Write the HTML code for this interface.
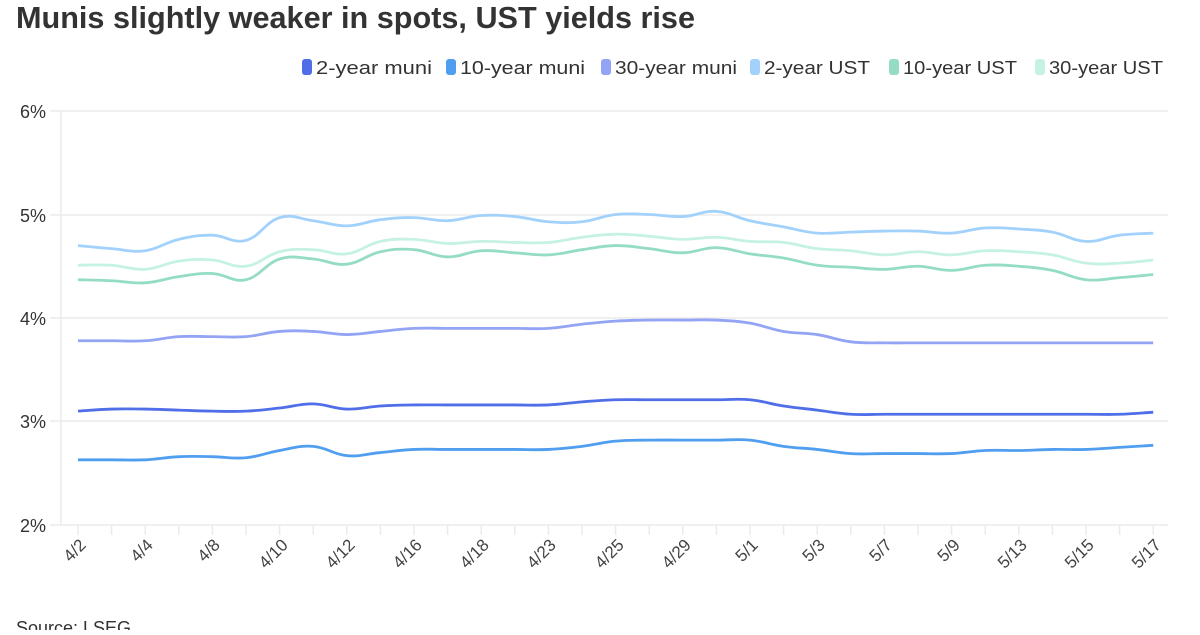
<!DOCTYPE html>
<html><head><meta charset="utf-8"><style>
body{margin:0;width:1200px;height:630px;overflow:hidden;background:#fff;font-family:"Liberation Sans",sans-serif;color:#333}
</style></head><body>
<svg id="s" width="1200" height="630" xmlns="http://www.w3.org/2000/svg" font-family="Liberation Sans, sans-serif">
<text x="16" y="28" font-size="31" font-weight="bold" fill="#333" textLength="679" lengthAdjust="spacingAndGlyphs">Munis slightly weaker in spots, UST yields rise</text>
<g font-size="18" fill="#333">
<rect x="302" y="59" width="10" height="16" rx="3" fill="#4f6ee8"/><text x="316" y="74" textLength="116" lengthAdjust="spacingAndGlyphs">2-year muni</text>
<rect x="446" y="59" width="10" height="16" rx="3" fill="#509ef0"/><text x="460" y="74" textLength="125" lengthAdjust="spacingAndGlyphs">10-year muni</text>
<rect x="601" y="59" width="10" height="16" rx="3" fill="#94a4f5"/><text x="615" y="74" textLength="122" lengthAdjust="spacingAndGlyphs">30-year muni</text>
<rect x="750" y="59" width="10" height="16" rx="3" fill="#a2d2fc"/><text x="764" y="74" textLength="106" lengthAdjust="spacingAndGlyphs">2-year UST</text>
<rect x="889" y="59" width="10" height="16" rx="3" fill="#94dcc4"/><text x="903" y="74" textLength="114" lengthAdjust="spacingAndGlyphs">10-year UST</text>
<rect x="1035" y="59" width="10" height="16" rx="3" fill="#c5f2e2"/><text x="1049" y="74" textLength="114" lengthAdjust="spacingAndGlyphs">30-year UST</text>
</g>
<g stroke="#ebebeb" stroke-width="1.5">
<line x1="50" x2="1168" y1="111" y2="111"/><line x1="50" x2="1168" y1="215" y2="215"/><line x1="50" x2="1168" y1="318" y2="318"/><line x1="50" x2="1168" y1="421" y2="421"/><line x1="50" x2="1168" y1="525" y2="525"/>
<line x1="61" x2="61" y1="111" y2="525"/>
</g>
<g font-size="18" fill="#333" text-anchor="end">
<text x="46" y="118">6%</text><text x="46" y="222">5%</text><text x="46" y="325">4%</text><text x="46" y="428">3%</text><text x="46" y="532">2%</text>
</g>
<g id="ticks" stroke="#ebebeb" stroke-width="1.5"></g>
<g id="xl" font-size="17" fill="#444" text-anchor="end">
<text transform="translate(87,546) rotate(-45)">4/2</text>
<text transform="translate(154,546) rotate(-45)">4/4</text>
<text transform="translate(221,546) rotate(-45)">4/8</text>
<text transform="translate(289,546) rotate(-45)">4/10</text>
<text transform="translate(356,546) rotate(-45)">4/12</text>
<text transform="translate(423,546) rotate(-45)">4/16</text>
<text transform="translate(490,546) rotate(-45)">4/18</text>
<text transform="translate(557,546) rotate(-45)">4/23</text>
<text transform="translate(625,546) rotate(-45)">4/25</text>
<text transform="translate(692,546) rotate(-45)">4/29</text>
<text transform="translate(759,546) rotate(-45)">5/1</text>
<text transform="translate(826,546) rotate(-45)">5/3</text>
<text transform="translate(893,546) rotate(-45)">5/7</text>
<text transform="translate(961,546) rotate(-45)">5/9</text>
<text transform="translate(1028,546) rotate(-45)">5/13</text>
<text transform="translate(1095,546) rotate(-45)">5/15</text>
<text transform="translate(1162,546) rotate(-45)">5/17</text>
</g>
<g id="lines" fill="none" stroke-width="2.8" stroke-linejoin="round"></g>
<text x="16" y="634" font-size="18" fill="#333">Source: LSEG</text>
</svg>
<script>
var D={
"#94dcc4":[4.37,4.36,4.34,4.40,4.43,4.37,4.57,4.57,4.52,4.64,4.66,4.59,4.65,4.63,4.61,4.66,4.70,4.67,4.63,4.68,4.62,4.58,4.51,4.49,4.47,4.50,4.46,4.51,4.50,4.46,4.37,4.39,4.42],
"#c5f2e2":[4.51,4.51,4.47,4.55,4.56,4.50,4.64,4.66,4.62,4.74,4.76,4.72,4.74,4.73,4.73,4.78,4.81,4.79,4.76,4.78,4.74,4.73,4.67,4.65,4.61,4.64,4.61,4.65,4.64,4.61,4.53,4.53,4.56],
"#a2d2fc":[4.70,4.67,4.65,4.76,4.80,4.75,4.97,4.94,4.89,4.95,4.97,4.94,4.99,4.98,4.93,4.93,5.00,5.00,4.98,5.03,4.94,4.88,4.82,4.83,4.84,4.84,4.82,4.87,4.86,4.83,4.74,4.80,4.82],
"#94a4f5":[3.78,3.78,3.78,3.82,3.82,3.82,3.87,3.87,3.84,3.87,3.90,3.90,3.90,3.90,3.90,3.94,3.97,3.98,3.98,3.98,3.95,3.87,3.84,3.77,3.76,3.76,3.76,3.76,3.76,3.76,3.76,3.76,3.76],
"#4f6ee8":[3.10,3.12,3.12,3.11,3.10,3.10,3.13,3.17,3.12,3.15,3.16,3.16,3.16,3.16,3.16,3.19,3.21,3.21,3.21,3.21,3.21,3.15,3.11,3.07,3.07,3.07,3.07,3.07,3.07,3.07,3.07,3.07,3.09],
"#509ef0":[2.63,2.63,2.63,2.66,2.66,2.65,2.72,2.76,2.67,2.70,2.73,2.73,2.73,2.73,2.73,2.76,2.81,2.82,2.82,2.82,2.82,2.76,2.73,2.69,2.69,2.69,2.69,2.72,2.72,2.73,2.73,2.75,2.77]};
var NS="http://www.w3.org/2000/svg";
function X(i){return 78+33.6*i}function Y(v){return 525-(v-2)*103.5}
var tk=document.getElementById("ticks");
for(var i=0;i<33;i++){var l=document.createElementNS(NS,"line");l.setAttribute("x1",X(i));l.setAttribute("x2",X(i));l.setAttribute("y1",525);l.setAttribute("y2",535);tk.appendChild(l);}
var g=document.getElementById("lines");
for(var c in D){var a=D[c],p=a.map(function(v,i){return[X(i),Y(v)]});
var d="M"+p[0][0]+","+p[0][1];
for(var i=0;i<p.length-1;i++){var p0=p[Math.max(0,i-1)],p1=p[i],p2=p[i+1],p3=p[Math.min(p.length-1,i+2)],t=0.2;
d+=" C"+(p1[0]+(p2[0]-p0[0])*t)+","+(p1[1]+(p2[1]-p0[1])*t)+" "+(p2[0]-(p3[0]-p1[0])*t)+","+(p2[1]-(p3[1]-p1[1])*t)+" "+p2[0]+","+p2[1];}
var e=document.createElementNS(NS,"path");e.setAttribute("d",d);e.setAttribute("stroke",c);g.appendChild(e);}
</script>
</body></html>
